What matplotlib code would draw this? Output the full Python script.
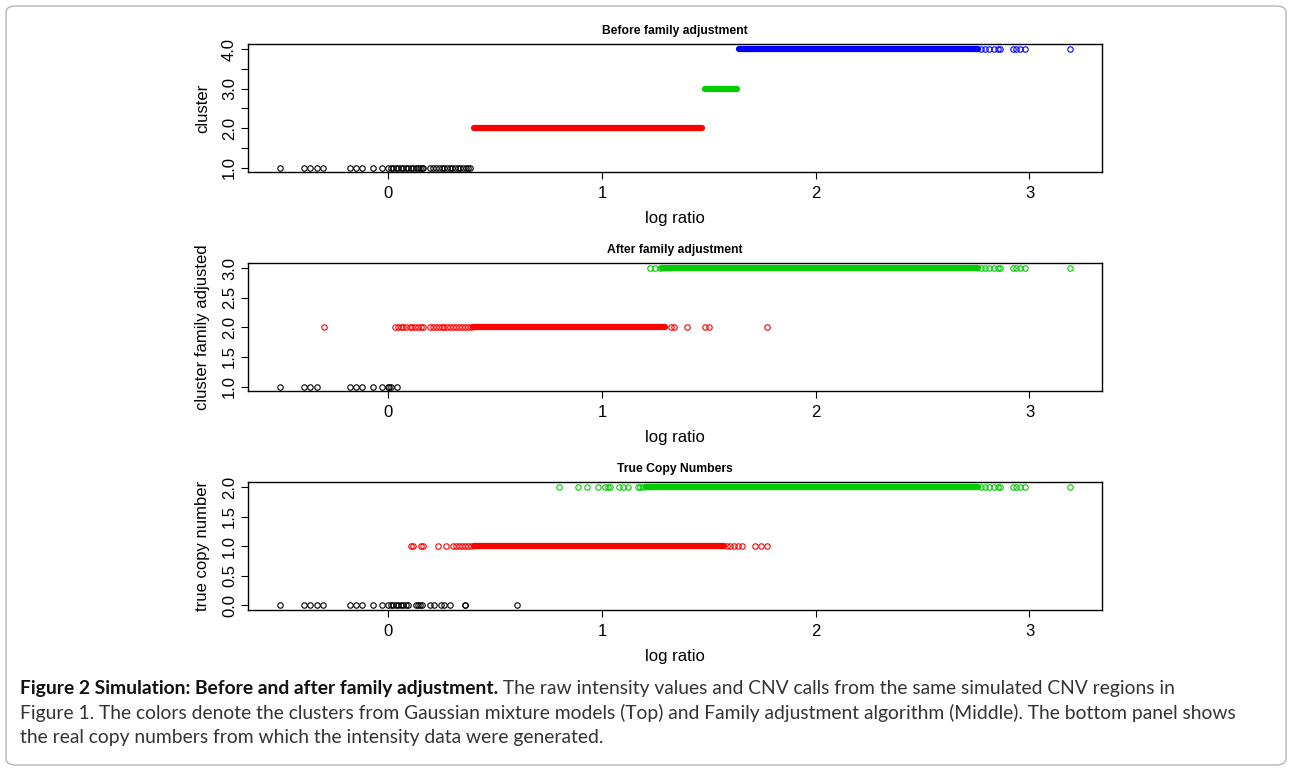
import matplotlib.pyplot as plt
from matplotlib.patches import FancyBboxPatch

plt.rcParams['font.family'] = 'Liberation Sans'

W, H = 1292, 771
GREEN = '#00cd00'

# log ratio values
tail_x = [2.773, 2.793, 2.813, 2.832, 2.851, 2.863, 2.923, 2.938, 2.954, 2.977, 3.188]

# top panel: "Before family adjustment"
top_black_x = [-0.508, -0.394, -0.365, -0.335, -0.303, -0.179, -0.151, -0.122, -0.072, -0.028,
               0.001, 0.012, 0.024, 0.035, 0.045, 0.058, 0.07, 0.082, 0.094, 0.105, 0.116,
               0.128, 0.138, 0.148, 0.156, 0.162, 0.195, 0.208, 0.222, 0.236, 0.25, 0.262,
               0.274, 0.288, 0.3, 0.312, 0.325, 0.338, 0.35, 0.362, 0.372, 0.382]
top_blue_x = tail_x
top_band_start = [0.40, 1.48, 1.64]
top_band_end = [1.468, 1.632, 2.758]
top_band_level = [2, 3, 4]

# middle panel: "After family adjustment"
mid_black_x = [-0.508, -0.394, -0.365, -0.335, -0.179, -0.151, -0.122, -0.072, -0.028,
               0.001, 0.006, 0.012, 0.040]
mid_red_x = [-0.301, 0.032, 0.045, 0.058, 0.07, 0.085, 0.1, 0.112, 0.125, 0.14, 0.152, 0.162,
             0.195, 0.208, 0.222, 0.236, 0.25, 0.262, 0.275, 0.29, 0.305, 0.318, 0.33, 0.345,
             0.36, 0.372, 0.385, 1.325, 1.336, 1.396, 1.481, 1.502, 1.770]
mid_green_x = [1.224, 1.247, 1.271] + tail_x
mid_band_start = [0.395, 1.282]
mid_band_end = [1.294, 2.758]
mid_band_level = [2, 3]

# bottom panel: "True Copy Numbers"
bot_black_x = [-0.508, -0.394, -0.365, -0.335, -0.303, -0.179, -0.151, -0.122, -0.072, -0.028,
               0.001, 0.012, 0.024, 0.035, 0.045, 0.058, 0.07, 0.082, 0.094, 0.128, 0.14,
               0.15, 0.16, 0.197, 0.214, 0.248, 0.259, 0.287, 0.357, 0.361, 0.604]
bot_red_x = [0.108, 0.115, 0.155, 0.162, 0.233, 0.268, 0.303, 0.315, 0.33, 0.345, 0.36, 0.373,
             0.385, 1.585, 1.60, 1.62, 1.637, 1.655, 1.716, 1.744, 1.773]
bot_green_x = [0.798, 0.888, 0.932, 0.982, 1.013, 1.029, 1.037, 1.079, 1.099, 1.122, 1.169,
               1.18, 1.193] + tail_x
bot_band_start = [0.40, 1.205]
bot_band_end = [1.57, 2.758]
bot_band_level = [1, 2]

fig = plt.figure(figsize=(W / 100, H / 100), dpi=100)

# rounded frame around the whole figure
fig.patches.append(FancyBboxPatch((6 / W, 6 / H), 1 - 12 / W, 1 - 12 / H,
                                  boxstyle='round,pad=0,rounding_size=0.008',
                                  transform=fig.transFigure, fill=False,
                                  ec='#b5b5b5', lw=1.0))


def circles(ax, xs, level, col):
    ax.plot(xs, [level] * len(xs), 'o', mfc='none', mec=col, ms=3.9, mew=0.8, zorder=3)


def bands(ax, starts, ends, levels, cols):
    for x0, x1, lv, c in zip(starts, ends, levels, cols):
        ax.plot([x0, x1], [lv, lv], color=c, lw=4.5, solid_capstyle='round', zorder=2)


def panel(top_px, bot_px, title, ylabel, ylim, yticks, ylabels):
    ax = fig.add_axes([248 / W, 1 - bot_px / H, (1101.7 - 248) / W, (bot_px - top_px) / H])
    ax.set_xlim(-0.656, 3.338)
    ax.set_ylim(*ylim)
    ax.set_xticks([0, 1, 2, 3])
    ax.set_yticks(yticks)
    ax.set_yticklabels(ylabels, rotation=90, va='center')
    ax.tick_params(axis='both', length=5, width=0.8, labelsize=12, direction='out')
    ax.tick_params(axis='x', pad=5)
    ax.tick_params(axis='y', pad=3)
    for s in ax.spines.values():
        s.set_linewidth(1.0)
    ax.set_xlabel('log ratio', fontsize=12)
    ax.xaxis.label.set_va('center')
    ax.xaxis.set_label_coords(0.5, -46.7 / (bot_px - top_px))
    ax.set_ylabel(ylabel, fontsize=12)
    ax.yaxis.label.set_va('center')
    ax.yaxis.set_label_coords(-45 / 853.7, 0.5)
    ax.set_title(title, fontsize=8.7, fontweight='bold', y=1 + 13.3 / (bot_px - top_px),
                 va='center', pad=0)
    return ax


ax1 = panel(44.3, 172.3, 'Before family adjustment', 'cluster', (0.88, 4.12),
            [1, 1.5, 2, 2.5, 3, 3.5, 4], ['1.0', '', '2.0', '', '3.0', '', '4.0'])
bands(ax1, top_band_start, top_band_end, top_band_level, ['red', GREEN, 'blue'])
circles(ax1, top_black_x, 1, 'black')
circles(ax1, top_blue_x, 4, 'blue')

ax2 = panel(263.3, 391.3, 'After family adjustment', 'cluster family adjusted', (0.92, 3.08),
            [1, 1.5, 2, 2.5, 3], ['1.0', '1.5', '2.0', '2.5', '3.0'])
bands(ax2, mid_band_start, mid_band_end, mid_band_level, ['red', GREEN])
circles(ax2, mid_black_x, 1, 'black')
circles(ax2, mid_red_x, 2, 'red')
circles(ax2, mid_green_x, 3, GREEN)

ax3 = panel(482.3, 610, 'True Copy Numbers', 'true copy number', (-0.08, 2.08),
            [0, 0.5, 1, 1.5, 2], ['0.0', '0.5', '1.0', '1.5', '2.0'])
bands(ax3, bot_band_start, bot_band_end, bot_band_level, ['red', GREEN])
circles(ax3, bot_black_x, 0, 'black')
circles(ax3, bot_red_x, 1, 'red')
circles(ax3, bot_green_x, 2, GREEN)

# caption
cap_bold = 'Figure 2 Simulation: Before and after family adjustment.'
cap_1 = ' The raw intensity values and CNV calls from the same simulated CNV regions in'
cap_2 = ('Figure 1. The colors denote the clusters from Gaussian mixture models (Top) and '
         'Family adjustment algorithm (Middle). The bottom panel shows')
cap_3 = 'the real copy numbers from which the intensity data were generated.'

r = fig.canvas.get_renderer()
t2 = fig.text(20 / W, 1 - 718.5 / H, cap_2, fontsize=12, family='Lato', color='#333333',
              va='baseline')
fs = 12 * 1212 / t2.get_window_extent(r).width
t2.set_fontsize(fs)
fig.text(20 / W, 1 - 743 / H, cap_3, fontsize=fs, family='Lato', color='#333333',
         va='baseline')
tb = fig.text(20 / W, 1 - 694 / H, cap_bold, fontsize=fs, family='Lato', fontweight='bold',
              color='#111111', va='baseline')
bx = tb.get_window_extent(r).x1
fig.text(bx / W, 1 - 694 / H, cap_1, fontsize=fs, family='Lato', color='#333333',
         va='baseline')

fig.savefig('out.png', dpi=100)
